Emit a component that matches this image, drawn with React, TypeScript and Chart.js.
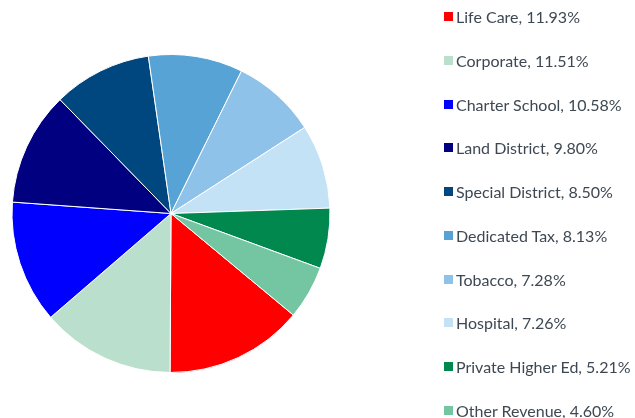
import React, { useEffect, useRef } from "react";
import { Chart, registerables } from "chart.js";

Chart.register(...registerables);

const categories: string[] = [
  "Life Care",
  "Corporate",
  "Charter School",
  "Land District",
  "Special District",
  "Dedicated Tax",
  "Tobacco",
  "Hospital",
  "Private Higher Ed",
  "Other Revenue",
];

const shares: number[] = [11.93, 11.51, 10.58, 9.8, 8.5, 8.13, 7.28, 7.26, 5.21, 4.6];

const colors: string[] = [
  "#ff0000",
  "#bbdfcd",
  "#0000ff",
  "#000080",
  "#00477f",
  "#58a3d6",
  "#8fc2e8",
  "#c4e2f6",
  "#00884f",
  "#74c6a3",
];

const W = 635;
const H = 418;

export default function App() {
  const canvasRef = useRef<HTMLCanvasElement | null>(null);
  const legendRef = useRef<HTMLDivElement | null>(null);

  useEffect(() => {
    const canvas = canvasRef.current;
    if (!canvas) return;

    const htmlLegend = {
      id: "htmlLegend",
      afterUpdate(chart: any) {
        const box = legendRef.current;
        if (!box) return;
        while (box.firstChild) box.removeChild(box.firstChild);
        const items = chart.options.plugins.legend.labels.generateLabels(chart);
        items.forEach((item: any) => {
          const row = document.createElement("div");
          row.style.display = "flex";
          row.style.alignItems = "center";
          row.style.height = "43.75px";
          row.style.whiteSpace = "nowrap";
          const sw = document.createElement("span");
          sw.style.display = "inline-block";
          sw.style.width = "9px";
          sw.style.height = "9px";
          sw.style.background = item.fillStyle;
          sw.style.marginRight = "3px";
          sw.style.flex = "0 0 auto";
          const tx = document.createElement("span");
          const v = shares[item.index];
          tx.textContent = `${item.text}, ${v.toFixed(2)}%`;
          row.appendChild(sw);
          row.appendChild(tx);
          box.appendChild(row);
        });
      },
    };

    const chart = new Chart(canvas, {
      type: "pie",
      data: {
        labels: categories,
        datasets: [
          {
            data: shares,
            backgroundColor: colors,
            borderColor: "#ffffff",
            borderWidth: 1,
          },
        ],
      },
      options: {
        responsive: false,
        animation: false,
        rotation: 129.7,
        layout: {
          padding: { left: 11.5, top: 54, right: 304.5, bottom: 45 },
        },
        plugins: {
          legend: { display: false },
          tooltip: { enabled: false },
        },
      },
      plugins: [htmlLegend],
    });

    return () => {
      chart.destroy();
    };
  }, []);

  return (
    <div
      style={{
        position: "absolute",
        left: 0,
        top: 0,
        width: W,
        height: H,
        overflow: "hidden",
        background: "#ffffff",
      }}
    >
      <canvas
        ref={canvasRef}
        width={W}
        height={H}
        style={{ position: "absolute", left: 0, top: 0, width: W, height: H }}
      />
      <div
        ref={legendRef}
        style={{
          position: "absolute",
          left: 444,
          top: -5.375,
          fontFamily: "Lato, sans-serif",
          fontSize: 16,
          color: "#3e4853",
        }}
      />
    </div>
  );
}
